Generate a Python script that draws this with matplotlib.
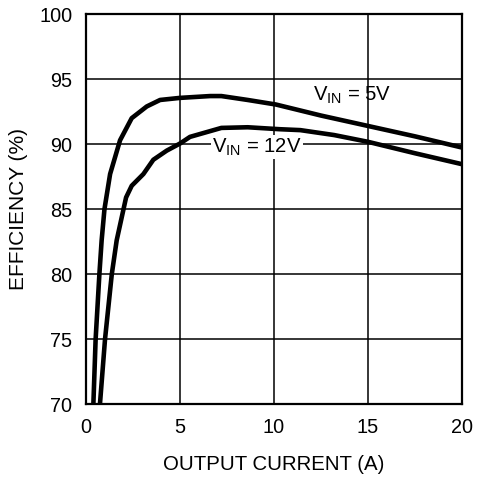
import matplotlib
matplotlib.use("Agg")
import matplotlib.pyplot as plt

plt.rcParams['font.family'] = ['Liberation Sans', 'DejaVu Sans']
plt.rcParams['mathtext.fontset'] = 'custom'
plt.rcParams['mathtext.rm'] = 'Liberation Sans'
plt.rcParams['mathtext.it'] = 'Liberation Sans'

# efficiency curves
i_5v = [0.39, 0.51, 0.71, 0.83, 0.98, 1.28, 1.81, 2.43, 3.23, 3.94, 5.0, 6.6, 7.2, 8.6, 10.1, 12.5, 15.0, 17.5, 20.0]
eff_5v = [70.0, 75.0, 80.0, 82.6, 85.0, 87.7, 90.3, 92.0, 92.9, 93.4, 93.56, 93.7, 93.7, 93.4, 93.05, 92.2, 91.4, 90.6, 89.74]

i_12v = [0.74, 1.01, 1.37, 1.63, 2.13, 2.43, 3.05, 3.58, 4.29, 5.0, 5.53, 7.2, 8.6, 10.3, 11.4, 13.2, 15.0, 17.5, 20.0]
eff_12v = [70.0, 75.0, 80.0, 82.6, 85.9, 86.8, 87.7, 88.8, 89.5, 90.05, 90.56, 91.25, 91.3, 91.15, 91.08, 90.7, 90.18, 89.3, 88.46]

xticks = [0, 5, 10, 15, 20]
yticks = [70, 75, 80, 85, 90, 95, 100]

fig = plt.figure(figsize=(4.78, 4.80), dpi=100)
ax = fig.add_axes([0.18, 0.158, 0.7865, 0.8125])

ax.plot(i_5v, eff_5v, color='black', linewidth=3.3, solid_joinstyle='round', zorder=3)
ax.plot(i_12v, eff_12v, color='black', linewidth=3.3, solid_joinstyle='round', zorder=3)

ax.set_xlim(0, 20)
ax.set_ylim(70, 100)
ax.set_xticks(xticks)
ax.set_yticks(yticks)
ax.tick_params(length=0, labelsize=14.3, pad=10)
ax.grid(True, color='black', linewidth=1.1)
for s in ax.spines.values():
    s.set_linewidth(1.6)

ax.set_xlabel('OUTPUT CURRENT (A)', fontsize=14.7, labelpad=13)
ax.set_ylabel('EFFICIENCY (%)', fontsize=15, labelpad=8)

ax.text(12.07, 93.75, r'V$_{\mathrm{IN}}$ = 5V', fontsize=14.6, ha='left', va='center', zorder=4)
ax.text(6.7, 89.75, r'V$_{\mathrm{IN}}$ = 12V', fontsize=14.6, ha='left', va='center', zorder=4,
        bbox=dict(facecolor='white', edgecolor='none', pad=1))

fig.savefig('out.png', dpi=100)
